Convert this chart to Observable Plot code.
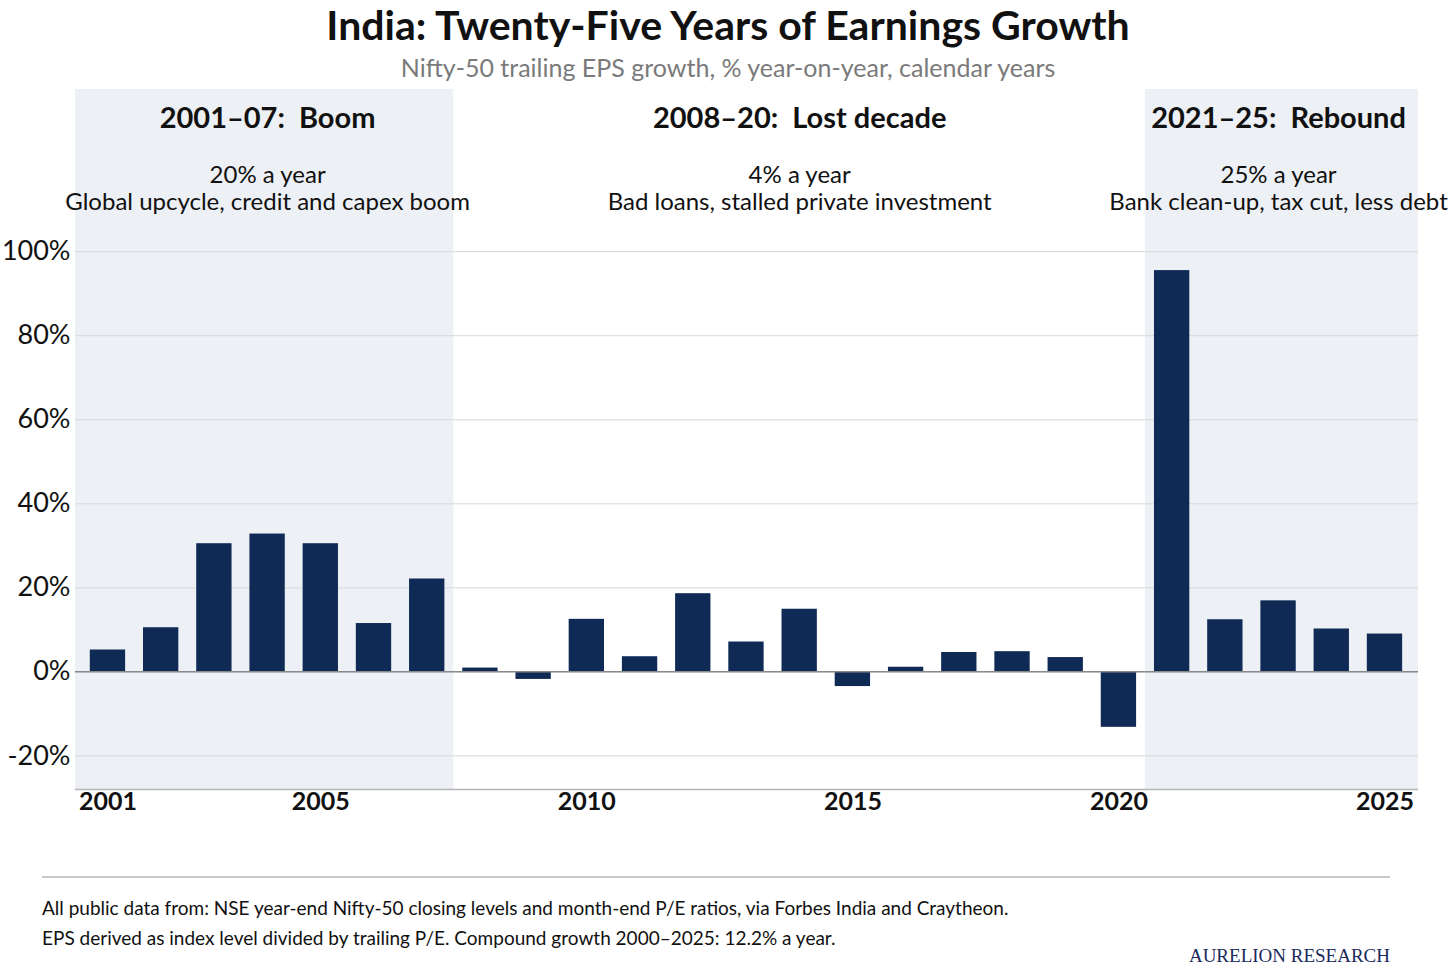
<!DOCTYPE html>
<html><head><meta charset="utf-8">
<script src="https://cdn.jsdelivr.net/npm/d3@7"></script>
<script src="https://cdn.jsdelivr.net/npm/@observablehq/plot@0.6"></script>
<style>
body{margin:0;background:#fff;font-family:Lato,sans-serif;width:1456px;height:975px;position:relative;overflow:hidden}
#title{position:absolute;left:0;width:1456px;top:0;height:50px;line-height:50px;text-align:center;font-weight:700;font-size:41px;color:#111}
#subtitle{position:absolute;left:0;width:1456px;top:51px;height:32px;line-height:32px;text-align:center;font-size:25px;color:#7a7a7a}
#chart{position:absolute;left:0;top:89px}
#rule{position:absolute;left:42px;width:1348px;top:876px;height:0;border-top:2px solid #c8c8c8}
.note{position:absolute;left:42px;font-size:19px;line-height:24px;color:#111}
#brand{position:absolute;right:66px;top:945px;line-height:22px;font-family:"Liberation Serif",serif;font-size:19px;color:#1a2a5c}
</style>
</head><body>
<div id="title">India: Twenty-Five Years of Earnings Growth</div>
<div id="subtitle">Nifty-50 trailing EPS growth, % year-on-year, calendar years</div>
<div id="chart"></div>
<div id="rule"></div>
<div class="note" style="top:896px">All public data from: NSE year-end Nifty-50 closing levels and month-end P/E ratios, via Forbes India and Craytheon.</div>
<div class="note" style="top:926px">EPS derived as index level divided by trailing P/E. Compound growth 2000–2025: 12.2% a year.</div>
<div id="brand">AURELION RESEARCH</div>
<script>
const years = [2001,2002,2003,2004,2005,2006,2007,2008,2009,2010,2011,2012,2013,2014,2015,2016,2017,2018,2019,2020,2021,2022,2023,2024,2025];
const growth = [5.2,10.5,30.5,32.8,30.5,11.5,22.1,0.9,-1.8,12.5,3.6,18.6,7.1,14.9,-3.5,1.1,4.6,4.8,3.4,-13.2,95.5,12.4,16.9,10.2,9.0];

const periodStart = [2001, 2008, 2021];
const periodEnd = [2007, 2020, 2025];
const periodTitle = ["2001–07:  Boom", "2008–20:  Lost decade", "2021–25:  Rebound"];
const periodRate = ["20% a year", "4% a year", "25% a year"];
const periodDriver = ["Global upcycle, credit and capex boom", "Bad loans, stalled private investment", "Bank clean-up, tax cut, less debt"];
const periodShaded = [true, false, true];

const xTicks = [2001, 2005, 2010, 2015, 2020, 2025];
const yTicks = [-20, 0, 20, 40, 60, 80, 100];
const xDomain = [2000.39, 2025.63];
const yDomain = [-28, 138.6];

const firstYear = years[0], lastYear = years[years.length - 1];
const data = years.map((year, i) => ({year, value: growth[i]}));
const periods = periodStart.map((s, i) => ({
  start: s, end: periodEnd[i], mid: (s + periodEnd[i]) / 2,
  title: periodTitle[i], rate: periodRate[i], driver: periodDriver[i], shaded: periodShaded[i]
}));
const halfBar = 0.332;

const chart = Plot.plot({
  width: 1456, height: 740,
  marginTop: 0, marginLeft: 75, marginRight: 38, marginBottom: 40,
  style: {fontFamily: "Lato, sans-serif", fontSize: "24px", color: "#111", background: "transparent", overflow: "visible"},
  x: {domain: xDomain, label: null},
  y: {domain: yDomain, label: null},
  marks: [
    Plot.rect(periods.filter(p => p.shaded), {
      x1: p => p.start === firstYear ? xDomain[0] : p.start - 0.5,
      x2: p => p.end === lastYear ? xDomain[1] : p.end + 0.5,
      y1: () => yDomain[0], y2: () => yDomain[1],
      fill: "#edf0f5"
    }),
    Plot.gridY(yTicks, {stroke: "#d9d9d9", strokeOpacity: 1, strokeWidth: 1}),
    Plot.ruleY([yDomain[0]], {stroke: "#b5b5b5", strokeWidth: 1.5}),
    Plot.rect(data, {
      x1: d => d.year - halfBar, x2: d => d.year + halfBar,
      y1: () => 0, y2: "value", fill: "#0e2a55"
    }),
    Plot.ruleY([0], {stroke: "#8a8a8a", strokeWidth: 1.5}),
    Plot.axisY(yTicks, {tickSize: 0, tickPadding: 5, tickFormat: d => `${d}%`, fontSize: 27, fill: "#111"}),
    Plot.axisX(xTicks, {tickSize: 0, tickPadding: 3, tickFormat: d => String(d), fontSize: 25, fontWeight: "bold", fill: "#111"}),
    Plot.text(periods, {x: "mid", text: "title", frameAnchor: "top", dy: 29, lineAnchor: "middle", fontSize: 29, fontWeight: "bold", fill: "#111"}),
    Plot.text(periods, {x: "mid", text: "rate", frameAnchor: "top", dy: 86, lineAnchor: "middle", fontSize: 24, fill: "#111"}),
    Plot.text(periods, {x: "mid", text: "driver", frameAnchor: "top", dy: 113, lineAnchor: "middle", fontSize: 24, fill: "#111"})
  ]
});
document.getElementById("chart").appendChild(chart);
</script>
</body></html>
